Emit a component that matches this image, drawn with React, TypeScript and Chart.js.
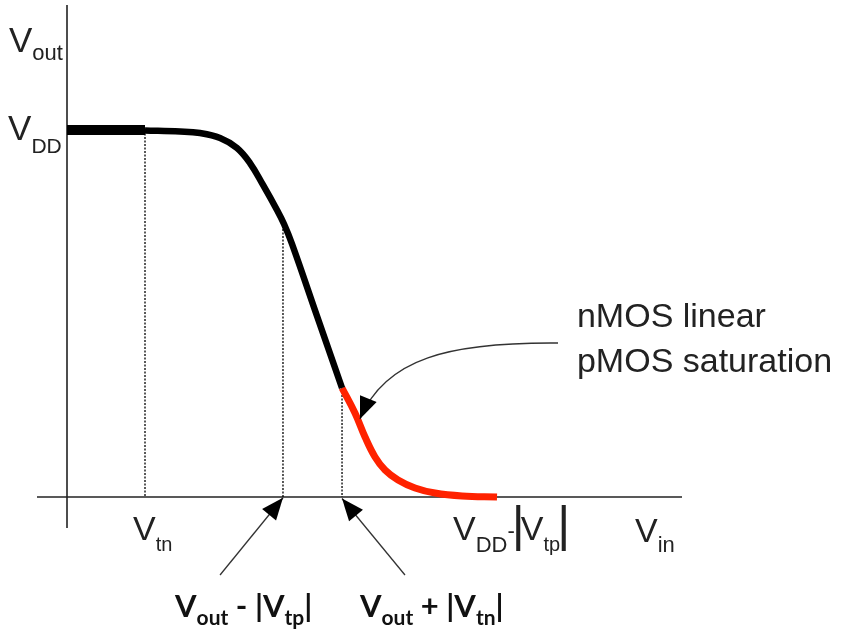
import React, { useEffect, useRef } from "react";
import { Chart, registerables } from "chart.js";

Chart.register(...registerables);

// Transfer characteristic (Vin in schematic volts, Vout in volts)
const thickVin = [0, 1.0];
const thickVout = [5.0, 5.0];
const blackVin = [1.0, 1.449, 1.705, 1.962, 2.179, 2.346, 2.513, 2.692, 2.782, 2.885, 3.205, 3.526];
const blackVout = [4.993, 4.98, 4.959, 4.891, 4.755, 4.55, 4.251, 3.91, 3.719, 3.447, 2.466, 1.485];
const redVin = [3.526, 3.692, 3.821, 3.949, 4.077, 4.244, 4.462, 4.718, 5.064, 5.513];
const redVout = [1.485, 1.144, 0.817, 0.545, 0.368, 0.232, 0.123, 0.054, 0.014, 0.0];
// Dotted marker lines (Vtn, Vout-|Vtp|, Vout+|Vtn|)
const markerVin = [1.0, 2.769, 3.526];
const markerVout = [5.0, 3.745, 1.485];
// Axis extents
const xAxisVin = [-0.385, 7.885];
const yAxisVout = [-0.422, 6.703];
// Visible window
const xRange = [-0.859, 10.0];
const yRange = [-1.88, 6.771];

const pts = (xs: number[], ys: number[]) => xs.map((x, i) => ({ x, y: ys[i] }));

const reg = (s: number) => `${s}px "Liberation Sans", Arial, sans-serif`;
const bold = (s: number) => `bold ${s}px Lato, "Open Sans", sans-serif`;

const annotations = {
  id: "annotations",
  afterDatasetsDraw(chart: any) {
    const ctx: CanvasRenderingContext2D = chart.ctx;
    const X = (v: number) => chart.scales.x.getPixelForValue(v);
    const Y = (v: number) => chart.scales.y.getPixelForValue(v);
    ctx.save();
    ctx.textBaseline = "alphabetic";
    ctx.textAlign = "left";

    const rich = (vx: number, vy: number, parts: { t: string; f: string; dy?: number; dx?: number }[], color: string) => {
      ctx.fillStyle = color;
      let cx = X(vx);
      const by = Y(vy);
      for (const p of parts) {
        ctx.font = p.f;
        ctx.fillText(p.t, cx, by + (p.dy || 0));
        cx += ctx.measureText(p.t).width + (p.dx || 0);
      }
    };

    const grey = "#222";
    rich(-0.744, 6.063, [{ t: "V", f: reg(35) }, { t: "out", f: reg(22), dy: 8 }], grey);
    rich(-0.756, 4.864, [{ t: "V", f: reg(35) }, { t: "DD", f: reg(21), dy: 13 }], grey);
    rich(0.846, -0.586, [{ t: "V", f: reg(34) }, { t: "tn", f: reg(20), dy: 11, dx: -1 }], grey);
    rich(4.949, -0.586, [
      { t: "V", f: reg(34) },
      { t: "DD", f: reg(22), dy: 12 },
      { t: "-", f: reg(22), dy: -2, dx: -3 },
      { t: "|", f: reg(50), dy: 1, dx: -4 },
      { t: "V", f: reg(34) },
      { t: "tp", f: reg(20), dy: 11, dx: -3 },
      { t: "|", f: reg(50), dy: 1 },
    ], grey);
    rich(7.282, -0.613, [{ t: "V", f: reg(34) }, { t: "in", f: reg(22), dy: 10 }], grey);

    ctx.fillStyle = grey;
    ctx.font = reg(34);
    ctx.fillText("nMOS linear", X(6.538), Y(2.316));
    ctx.fillText("pMOS saturation", X(6.538), Y(1.703));

    const blk = "#111";
    rich(1.385, -1.635, [
      { t: "V", f: bold(31) },
      { t: "out", f: bold(21), dy: 8 },
      { t: " - |V", f: bold(31) },
      { t: "tp", f: bold(21), dy: 8 },
      { t: "|", f: bold(31) },
    ], blk);
    rich(3.756, -1.635, [
      { t: "V", f: bold(31) },
      { t: "out", f: bold(21), dy: 8 },
      { t: " + |V", f: bold(31) },
      { t: "tn", f: bold(21), dy: 8 },
      { t: "|", f: bold(31) },
    ], blk);

    // arrows
    ctx.strokeStyle = "#333";
    ctx.fillStyle = "#000";
    ctx.lineWidth = 1.3;
    const head = (tx: number, ty: number, fx: number, fy: number, len: number, hw: number) => {
      const a = Math.atan2(ty - fy, tx - fx);
      const c = Math.cos(a), s = Math.sin(a);
      ctx.beginPath();
      ctx.moveTo(tx, ty);
      ctx.lineTo(tx - len * c + hw * s, ty - len * s - hw * c);
      ctx.lineTo(tx - len * c - hw * s, ty - len * s + hw * c);
      ctx.closePath();
      ctx.fill();
    };
    const straight = (x0: number, y0: number, x1: number, y1: number) => {
      const ax = X(x0), ay = Y(y0), bx = X(x1), by = Y(y1);
      ctx.beginPath();
      ctx.moveTo(ax, ay);
      ctx.lineTo(bx, by);
      ctx.stroke();
      head(bx, by, ax, ay, 22, 9);
    };
    straight(1.962, -1.063, 2.769, -0.01);
    straight(4.333, -1.063, 3.526, -0.02);

    const p0 = [X(6.295), Y(2.098)], p1 = [X(4.91), Y(2.11)], p2 = [X(4.077), Y(1.894)], p3 = [X(3.756), Y(1.063)];
    ctx.beginPath();
    ctx.moveTo(p0[0], p0[1]);
    ctx.bezierCurveTo(p1[0], p1[1], p2[0], p2[1], p3[0], p3[1]);
    ctx.stroke();
    head(p3[0], p3[1], p2[0], p2[1], 22, 9);

    ctx.restore();
  },
};

export default function App() {
  const ref = useRef<HTMLCanvasElement | null>(null);
  useEffect(() => {
    if (!ref.current) return;
    const axisStyle = { borderColor: "#222", borderWidth: 1.6, pointRadius: 0, order: 3, fill: false, tension: 0 };
    const dotStyle = { borderColor: "#000", borderWidth: 1.3, borderDash: [2, 1.5], pointRadius: 0, order: 2, fill: false, tension: 0 };
    const datasets: any[] = [
      { ...axisStyle, data: pts(xAxisVin, [0, 0]) },
      { ...axisStyle, data: pts([0, 0], yAxisVout) },
      ...markerVin.map((v, i) => ({ ...dotStyle, data: pts([v, v], [markerVout[i], 0]) })),
      { data: pts(thickVin, thickVout), borderColor: "#000", borderWidth: 10, pointRadius: 0, order: 0, tension: 0 },
      { data: pts(blackVin, blackVout), borderColor: "#000", borderWidth: 6.5, pointRadius: 0, tension: 0.4, order: 1 },
      { data: pts(redVin, redVout), borderColor: "#ff2200", borderWidth: 7, pointRadius: 0, tension: 0.4, order: 1 },
    ];
    const chart = new Chart(ref.current, {
      type: "scatter",
      data: { datasets },
      options: {
        animation: false,
        responsive: false,
        devicePixelRatio: 1,
        showLine: true,
        events: [],
        layout: { padding: 0 },
        elements: { line: { borderCapStyle: "butt" } },
        datasets: { scatter: { clip: false } } as any,
        scales: {
          x: { type: "linear", min: xRange[0], max: xRange[1], display: false },
          y: { type: "linear", min: yRange[0], max: yRange[1], display: false },
        },
        plugins: { legend: { display: false }, tooltip: { enabled: false } },
      },
      plugins: [annotations],
    });
    return () => chart.destroy();
  }, []);
  return (
    <div style={{ position: "absolute", left: 0, top: 0, width: 847, height: 635, background: "#fff" }}>
      <canvas ref={ref} width={847} height={635} />
    </div>
  );
}
